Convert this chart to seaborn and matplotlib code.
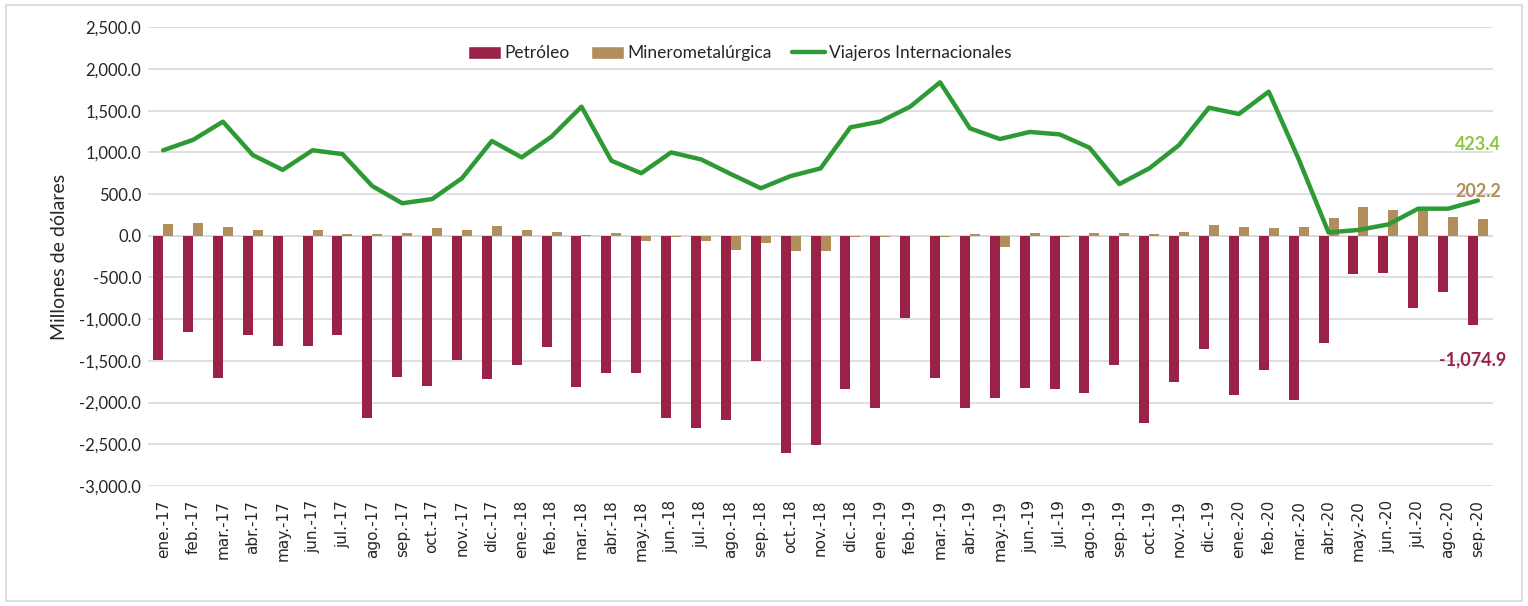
import numpy as np
import pandas as pd
import matplotlib
matplotlib.use("Agg")
import matplotlib.pyplot as plt
import seaborn as sns
from matplotlib.patches import Patch, Rectangle
from matplotlib.lines import Line2D
from matplotlib.ticker import FuncFormatter

meses = ['ene.-17', 'feb.-17', 'mar.-17', 'abr.-17', 'may.-17', 'jun.-17', 'jul.-17', 'ago.-17',
         'sep.-17', 'oct.-17', 'nov.-17', 'dic.-17', 'ene.-18', 'feb.-18', 'mar.-18', 'abr.-18',
         'may.-18', 'jun.-18', 'jul.-18', 'ago.-18', 'sep.-18', 'oct.-18', 'nov.-18', 'dic.-18',
         'ene.-19', 'feb.-19', 'mar.-19', 'abr.-19', 'may.-19', 'jun.-19', 'jul.-19', 'ago.-19',
         'sep.-19', 'oct.-19', 'nov.-19', 'dic.-19', 'ene.-20', 'feb.-20', 'mar.-20', 'abr.-20',
         'may.-20', 'jun.-20', 'jul.-20', 'ago.-20', 'sep.-20']

petroleo = [-1490, -1150, -1700, -1190, -1320, -1320, -1190, -2180, -1690, -1800, -1490, -1720,
            -1550, -1330, -1810, -1640, -1640, -2180, -2310, -2210, -1500, -2600, -2510, -1840,
            -2060, -980, -1710, -2070, -1940, -1830, -1840, -1880, -1550, -2240, -1750, -1360,
            -1910, -1610, -1970, -1280, -460, -450, -860, -670, -1074.9]

minero = [144, 156, 104, 72, 3, 72, 20, 20, 32, 88, 72, 116, 72, 48, 5, 32,
          -64, -20, -64, -172, -92, -188, -188, -20, -20, 0, -20, 20, -132, 32, -20, 32,
          32, 20, 48, 124, 104, 88, 104, 208, 348, 308, 325, 220, 202.2]

viajeros = [1025, 1150, 1368, 968, 790, 1025, 980, 596, 390, 440, 690, 1136,
            940, 1190, 1548, 900, 750, 1000, 916, 740, 570, 716, 808, 1300,
            1370, 1548, 1840, 1288, 1160, 1245, 1216, 1056, 620, 808, 1088, 1536,
            1460, 1728, 920, 40, 70, 136, 325, 325, 423.4]

c_pet = '#9B2247'
c_min = '#B38E5D'
c_via = '#2E9A35'

df = pd.DataFrame({'mes': meses * 2,
                   'serie': ['Petróleo'] * len(meses) + ['Minerometalúrgica'] * len(meses),
                   'valor': petroleo + minero})

sns.set_style('white')
plt.rcParams['font.family'] = ['Lato', 'DejaVu Sans']

fig = plt.figure(figsize=(15.28, 6.06), dpi=100)
ax = fig.add_axes([0.097, 0.198, 0.880, 0.757])

sns.barplot(data=df, x='mes', y='valor', hue='serie', order=meses,
            hue_order=['Petróleo', 'Minerometalúrgica'],
            palette=[c_pet, c_min], saturation=1, width=0.67, gap=0, linewidth=0,
            legend=False, ax=ax)
sns.lineplot(x=np.arange(len(meses)), y=viajeros, color=c_via, linewidth=3.2, ax=ax)

ax.set_ylim(-3000, 2500)
ax.set_xlim(-0.5, len(meses) - 0.5)
ax.set_yticks(np.arange(-3000, 2501, 500))
ax.yaxis.set_major_formatter(FuncFormatter(lambda v, p: f'{v:,.1f}'))
ax.grid(axis='y', color='#D9D9D9', linewidth=1.2)
ax.set_axisbelow(True)
ax.axhline(0, color='#D9D9D9', linewidth=1.2, zorder=0.5)
for s in ax.spines.values():
    s.set_visible(False)

ax.set_xlabel('')
ax.set_ylabel('Millones de dólares', fontsize=14, labelpad=8)
ax.tick_params(axis='y', labelsize=12, length=0, pad=5)
ax.tick_params(axis='x', labelsize=11, length=0, pad=10)
for t in ax.get_xticklabels():
    t.set_rotation(90)
    t.set_family('DejaVu Sans')

n = len(meses) - 1
ax.annotate(f'{viajeros[-1]:,.1f}', xy=(n, viajeros[-1]), xytext=(0, 40),
            textcoords='offset points', ha='center', va='center',
            color='#8DC63F', fontsize=13, fontweight='bold')
ax.annotate(f'{minero[-1]:,.1f}', xy=(n, minero[-1]), xytext=(0, 20),
            textcoords='offset points', ha='center', va='center',
            color=c_min, fontsize=13, fontweight='bold')
ax.annotate(f'{petroleo[-1]:,.1f}', xy=(n, petroleo[-1]), xytext=(-4, -25),
            textcoords='offset points', ha='center', va='center',
            color=c_pet, fontsize=13, fontweight='bold')

handles = [Patch(facecolor=c_pet, label='Petróleo'),
           Patch(facecolor=c_min, label='Minerometalúrgica'),
           Line2D([0], [0], color=c_via, linewidth=3.2, label='Viajeros Internacionales')]
ax.legend(handles=handles, loc='center', bbox_to_anchor=(0.44, 0.943), ncol=3,
          frameon=False, fontsize=12.5, handlelength=1.9, handleheight=0.75,
          columnspacing=1.2, handletextpad=0.2)

fig.patches.append(Rectangle((0.004, 0.008), 0.992, 0.984, transform=fig.transFigure,
                             fill=False, edgecolor='#D9D9D9', linewidth=1.2))

fig.savefig('out.png', dpi=100)
